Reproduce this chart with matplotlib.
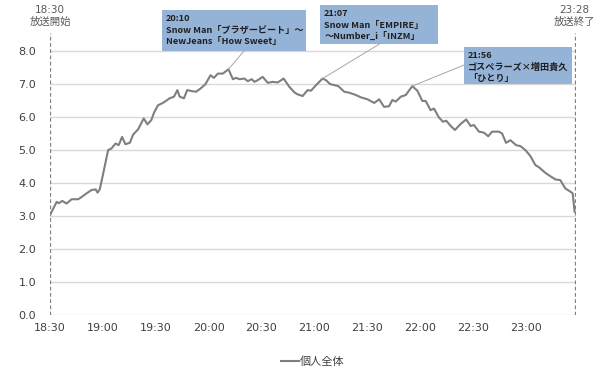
import matplotlib
matplotlib.use("Agg")
import matplotlib.pyplot as plt
from matplotlib.patches import Rectangle

plt.rcParams['font.family'] = ['DejaVu Sans', 'Noto Sans CJK JP']

# minutes after 18:30 and rating (%)
minutes = [0, 3.8, 5, 7, 9.4, 12.3, 16, 17.5, 20.8, 23.6, 25.9, 27, 28.3, 30.2, 33,
           34.9, 37.2, 39, 40.9, 42.8, 45.3, 47.2, 50, 53.2, 55.3, 57.5, 59, 61.3,
           64.1, 67.9, 70.4, 72.3, 73.6, 76, 77.9, 80.2, 83, 85.5, 88.1, 91.1, 93,
           95.3, 98.1, 101.3, 103.8, 105.6, 107.5, 110.4, 112.2, 114.5, 116, 117.9,
           120.7, 123.6, 126.4, 129.2, 132.6, 135.8, 138.7, 140.5, 143.4, 146.2,
           148.1, 151, 154.7, 156.6, 159, 161.3, 163.6, 167, 169.8, 173.6, 176.4,
           180.2, 184, 186.8, 189.6, 192.4, 194.3, 196.2, 199.1, 201.9, 205.6,
           208.5, 211.3, 213.2, 216, 217.9, 220.7, 223, 224.9, 227.4, 229.8, 233,
           236.2, 238.7, 240.6, 243.4, 246.2, 248.7, 250.9, 254.7, 256.6, 258.8,
           261.3, 264.5, 267, 269.8, 272.6, 275.4, 277.7, 281.1, 283.9, 286.8,
           289.6, 292.4, 295.3, 296.6, 297.7]
rating = [3.03, 3.43, 3.39, 3.46, 3.38, 3.51, 3.51, 3.56, 3.69, 3.79, 3.81, 3.71, 3.82,
          4.29, 5.0, 5.05, 5.2, 5.15, 5.4, 5.18, 5.22, 5.47, 5.63, 5.96, 5.78, 5.91,
          6.13, 6.36, 6.43, 6.57, 6.62, 6.82, 6.62, 6.57, 6.82, 6.79, 6.77, 6.87,
          6.99, 7.27, 7.19, 7.32, 7.32, 7.45, 7.15, 7.19, 7.15, 7.17, 7.09, 7.15,
          7.07, 7.12, 7.22, 7.04, 7.07, 7.05, 7.17, 6.92, 6.75, 6.69, 6.64, 6.82,
          6.8, 6.97, 7.17, 7.12, 7.0, 6.97, 6.94, 6.77, 6.74, 6.67, 6.6, 6.54, 6.43,
          6.54, 6.31, 6.33, 6.52, 6.47, 6.62, 6.67, 6.94, 6.8, 6.49, 6.49, 6.21,
          6.26, 5.99, 5.86, 5.89, 5.73, 5.61, 5.79, 5.93, 5.73, 5.76, 5.56, 5.53,
          5.42, 5.56, 5.56, 5.5, 5.22, 5.3, 5.15, 5.12, 5.0, 4.82, 4.55, 4.47, 4.31,
          4.21, 4.11, 4.09, 3.84, 3.74, 3.69, 3.13]

tick_pos = [0, 30, 60, 90, 120, 150, 180, 210, 240, 270]
tick_labels = ["18:30", "19:00", "19:30", "20:00", "20:30", "21:00", "21:30",
               "22:00", "22:30", "23:00"]

notes = [
    (101.3, 7.45, "20:10\nSnow Man「ブラザービート」～\nNewJeans「How Sweet」"),
    (154.7, 7.17, "21:07\nSnow Man「EMPIRE」\n～Number_i「INZM」"),
    (205.6, 6.94, "21:56\nゴスペラーズ×増田貴久\n「ひとり」"),
]
# callout boxes: x0, x1, y0, y1 (data coords) and connector ends
boxes = [(63.4, 145.5, 8.0, 9.24), (153.4, 220, 8.21, 9.39), (235, 296, 7.0, 8.12)]
conn_end = [(110, 8.0), (186.8, 8.21), (235, 7.58)]

fig = plt.figure(figsize=(6, 3.76), dpi=100)
ax = fig.add_axes([0.0833, 0.1622, 0.8767, 0.75])

ax.plot(minutes, rating, color="#7F7F7F", linewidth=1.5, label="個人全体")

ax.set_xlim(0, 298.5)
ax.set_ylim(0, 8.55)
ax.set_yticks([0, 1, 2, 3, 4, 5, 6, 7, 8])
ax.set_yticklabels([f"{v:.1f}" for v in range(9)])
ax.set_xticks(tick_pos)
ax.set_xticklabels(tick_labels)
ax.tick_params(length=0, labelsize=8, colors="#404040", pad=6)
ax.tick_params(axis='y', pad=10)
for s in ax.spines.values():
    s.set_visible(False)
ax.grid(axis='y', color="#D9D9D9", linewidth=1)
ax.set_axisbelow(True)

for xv in (0, 297.8):
    ax.axvline(xv, color="#7F7F7F", linestyle=(0, (3, 2)), linewidth=0.9)

ax.text(0, 8.75, "18:30\n放送開始", ha='center', va='bottom', fontsize=7.5,
        color="#595959", clip_on=False, linespacing=1.1)
ax.text(297.8, 8.75, "23:28\n放送終了", ha='center', va='bottom', fontsize=7.5,
        color="#595959", clip_on=False, linespacing=1.1)

for (px, py, txt), (x0, x1, y0, y1), (cx, cy) in zip(notes, boxes, conn_end):
    ax.plot([px, cx], [py, cy], color="#A6A6A6", linewidth=0.7, clip_on=False)
    ax.add_patch(Rectangle((x0, y0), x1 - x0, y1 - y0, facecolor="#95B3D7",
                           edgecolor="none", clip_on=False, zorder=3))
    ax.text(x0 + 2.2, y1 - 0.12, txt, ha='left', va='top', fontsize=6.6,
            fontweight='bold', color="#1F1F1F", linespacing=1.33,
            family=['Noto Sans CJK JP', 'DejaVu Sans'], clip_on=False, zorder=4)

leg = ax.legend(loc='upper center', bbox_to_anchor=(0.5, -0.11), frameon=False,
                fontsize=8, handlelength=1.6, handletextpad=0.1)
for t in leg.get_texts():
    t.set_color("#404040")

fig.savefig("out.png", dpi=100)
